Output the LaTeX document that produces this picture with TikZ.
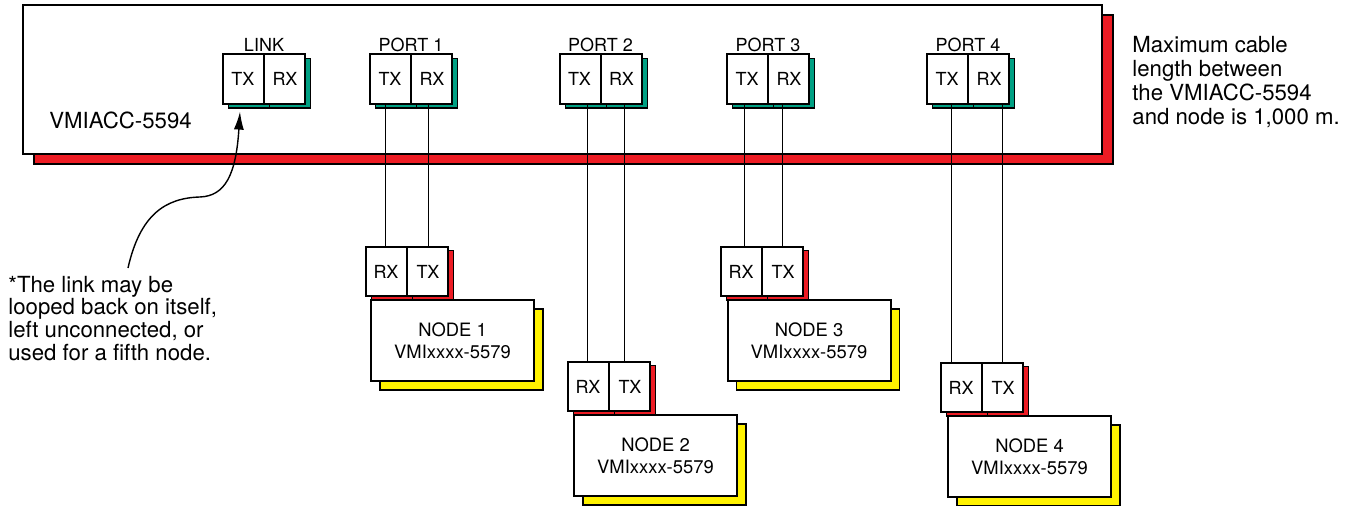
\documentclass[tikz,border=0pt]{standalone}
\usepackage{fontspec}
\setmainfont{TeX Gyre Heros}
\usepackage{tikz}
\usetikzlibrary{shapes.multipart, shadows, arrows.meta, positioning, calc}
\definecolor{accred}{HTML}{ED1C24}
\definecolor{portgreen}{HTML}{00A083}
\definecolor{nodeyellow}{HTML}{FFF200}
\tikzset{
  accbox/.style={draw, fill=white, line width=1pt, minimum width=539.5pt, minimum height=74.5pt,
    drop shadow={opacity=1, fill=accred, draw=black, line width=0.7pt, shadow xshift=5.5pt, shadow yshift=-5pt}},
  txrx/.style={rectangle split, rectangle split horizontal, rectangle split parts=2,
    draw, fill=white, line width=1pt, text width=20pt, align=center, inner xsep=0pt,
    inner ysep=9pt, text height=6.6pt, text depth=0pt, font=\fontsize{9}{10}\selectfont},
  accport/.style={txrx, drop shadow={opacity=1, fill=portgreen, draw=black, line width=0.6pt, shadow xshift=2.8pt, shadow yshift=-2.2pt}},
  nodeport/.style={txrx, drop shadow={opacity=1, fill=accred, draw=black, line width=0.6pt, shadow xshift=2.6pt, shadow yshift=-2pt}},
  nodebox/.style={draw, fill=white, line width=1pt, minimum width=81.5pt, minimum height=40.5pt,
    align=center, font=\fontsize{9.2}{11}\selectfont,
    drop shadow={opacity=1, fill=nodeyellow, draw=black, line width=0.7pt, shadow xshift=4.5pt, shadow yshift=-4.5pt}},
  portlbl/.style={inner sep=0pt, font=\fontsize{9}{10}\selectfont},
  cable/.style={line width=0.6pt},
  note/.style={inner sep=0pt, align=left}
}
\begin{document}
\begin{tikzpicture}[x=0.5pt, y=-0.5pt]
\useasboundingbox (0,0) rectangle (1356,506);
% VMIACC-5594 board
\node[accbox] (acc) at (562.5,79.5) {};
\node[inner sep=0pt, anchor=base west, font=\fontsize{11.1}{12}\selectfont] (accname) at (49,128.3) {VMIACC-5594};
% Link and ports on the board
\node[accport, label={[portlbl, label distance=0.5pt]above:LINK}] (link) at (264,79) {TX \nodepart{two} RX};
\node[accport, label={[portlbl, label distance=0.5pt]above:PORT 1}] (p1) at (411,79) {TX \nodepart{two} RX};
\node[accport, label={[portlbl, label distance=0.5pt]above:PORT 2}] (p2) at (600.5,79) {TX \nodepart{two} RX};
\node[accport, label={[portlbl, label distance=0.5pt]above:PORT 3}] (p3) at (768,79) {TX \nodepart{two} RX};
\node[accport, label={[portlbl, label distance=0.5pt]above:PORT 4}] (p4) at (968,79) {TX \nodepart{two} RX};
% Node 1
\node[nodeport] (n1p) at (407,271.5) {RX \nodepart{two} TX};
\node[nodebox] (n1) at (452.5,340.5) {NODE 1\\VMIxxxx-5579};
% Node 2
\node[nodeport] (n2p) at (609,386.5) {RX \nodepart{two} TX};
\node[nodebox] (n2) at (655.5,455.5) {NODE 2\\VMIxxxx-5579};
% Node 3
\node[nodeport] (n3p) at (762,271.5) {RX \nodepart{two} TX};
\node[nodebox] (n3) at (809,340.5) {NODE 3\\VMIxxxx-5579};
% Node 4
\node[nodeport] (n4p) at (982,387.5) {RX \nodepart{two} TX};
\node[nodebox] (n4) at (1029.5,456.5) {NODE 4\\VMIxxxx-5579};
% Cables
\coordinate (c1a) at ($(n1p.north west)!0.24!(n1p.north east)$);
\coordinate (c1b) at ($(n1p.north west)!0.76!(n1p.north east)$);
\coordinate (c2a) at ($(n2p.north west)!0.24!(n2p.north east)$);
\coordinate (c2b) at ($(n2p.north west)!0.68!(n2p.north east)$);
\coordinate (c3a) at ($(n3p.north west)!0.29!(n3p.north east)$);
\coordinate (c3b) at ($(n3p.north west)!0.74!(n3p.north east)$);
\coordinate (c4a) at ($(n4p.north west)!0.14!(n4p.north east)$);
\coordinate (c4b) at ($(n4p.north west)!0.74!(n4p.north east)$);
\draw[cable] (c1a) -- (c1a |- p1.south) (c1b) -- (c1b |- p1.south);
\draw[cable] (c2a) -- (c2a |- p2.south) (c2b) -- (c2b |- p2.south);
\draw[cable] (c3a) -- (c3a |- p3.south) (c3b) -- (c3b |- p3.south);
\draw[cable] (c4a) -- (c4a |- p4.south) (c4b) -- (c4b |- p4.south);
% Notes
\node[note, anchor=north west, font=\fontsize{11.1}{11.4}\selectfont] (linknote) at (8,275.5)
  {*The link may be\\looped back on itself,\\left unconnected, or\\used for a fifth node.};
\node[note, anchor=north west, font=\fontsize{11.1}{11.85}\selectfont] (cablenote) at (1132,36.4)
  {Maximum cable\\length between\\the VMIACC-5594\\and node is 1,000 m.};
\coordinate (notetop) at (128,268);
\coordinate (linkin) at ($(link.south)+(-12pt,-3.5pt)$);
\draw[line width=0.7pt, -{Latex[length=9pt, width=5pt]}] (notetop) .. controls (140,215) and (165,198) .. (200,197)
  .. controls (225,196) and (236,175) .. (linkin);
\end{tikzpicture}
\end{document}
